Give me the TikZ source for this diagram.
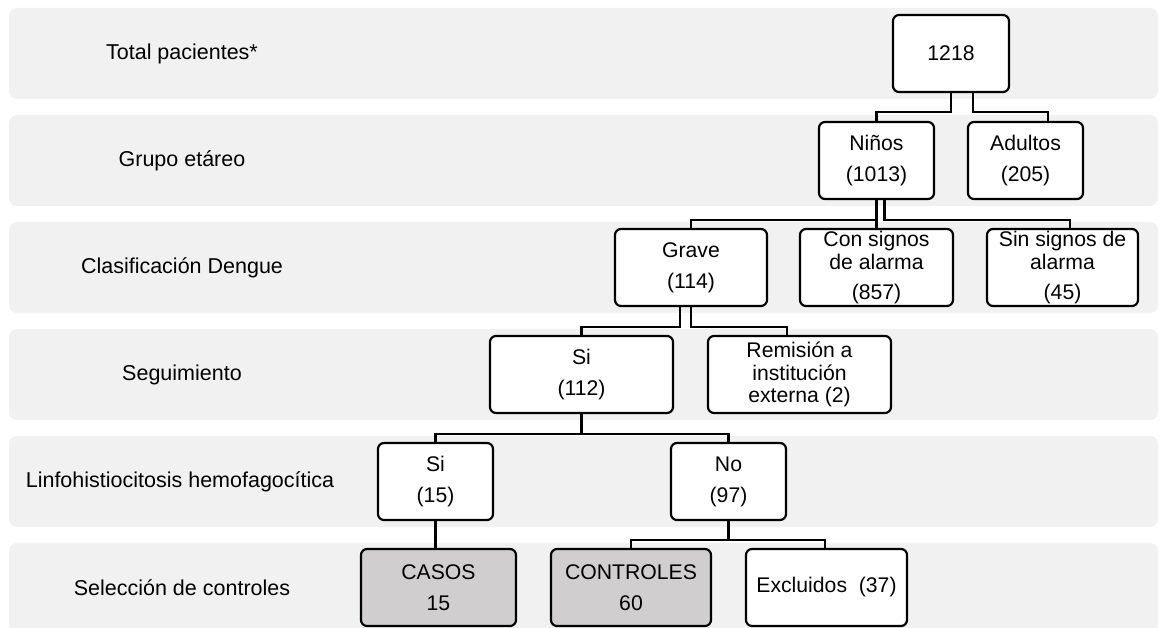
\documentclass[tikz,border=0pt]{standalone}
\usepackage{fontspec}
\setmainfont{Liberation Sans}
\definecolor{bandgray}{HTML}{F1F1F1}
\definecolor{selgray}{HTML}{D0CECE}
\begin{document}
\begin{tikzpicture}[x=1pt,y=-1pt,
  rowband/.style={fill=bandgray, draw=none, rounded corners=8pt},
  bx/.style={draw=black, line width=2.2pt, rounded corners=6pt, fill=white,
    minimum height=77pt, inner sep=0pt, align=center,
    font=\fontsize{21.2}{22.5}\selectfont},
  selbx/.style={bx, fill=selgray},
  lbl/.style={font=\fontsize{21.5}{24}\selectfont, anchor=center},
  conn/.style={draw=black, line width=2.2pt}]
\useasboundingbox (0,0) rectangle (1160,628);
\clip (0,0) rectangle (1160,628);
% row bands
\foreach \k in {0,...,5}{
  \fill[rowband] (9,{8+107*\k}) rectangle (1158,{99+107*\k});
}
% row labels
\node[lbl] (l1) at (182,53.5) {Total pacientes*};
\node[lbl] (l2) at (182,160.5) {Grupo etáreo};
\node[lbl] (l3) at (182,267.5) {Clasificación Dengue};
\node[lbl] (l4) at (182,374.5) {Seguimiento};
\node[lbl] (l5) at (180,481.5) {Linfohistiocitosis hemofagocítica};
\node[lbl] (l6) at (182,588) {Selección de controles};
% boxes
\node[bx, minimum width=116pt] (n1218) at (951,53.5) {1218};
\node[bx, minimum width=115pt] (ninos) at (876.5,160.5) {Niños\\[8.5pt](1013)};
\node[bx, minimum width=115pt] (adultos) at (1025.5,160.5) {Adultos\\[8.5pt](205)};
\node[bx, minimum width=152pt] (grave) at (691,267.5) {Grave\\[8.5pt](114)};
\node[bx, minimum width=153pt] (con) at (876.5,267.5) {Con signos\\de alarma\\[7.5pt](857)};
\node[bx, minimum width=151pt] (sin) at (1062.5,267.5) {Sin signos de\\alarma\\[7.5pt](45)};
\node[bx, minimum width=183pt] (si112) at (581.5,374.5) {Si\\[8.5pt](112)};
\node[bx, minimum width=183pt] (rem) at (799.5,374.5) {Remisión a\\institución\\externa (2)};
\node[bx, minimum width=115pt] (si15) at (435.5,481.5) {Si\\[8.5pt](15)};
\node[bx, minimum width=115pt] (no97) at (728.5,481.5) {No\\[8.5pt](97)};
\node[selbx, minimum width=155pt] (casos) at (438.5,587.5) {CASOS\\[8.5pt]15};
\node[selbx, minimum width=160pt] (controles) at (631,587.5) {CONTROLES\\[8.5pt]60};
\node[bx, minimum width=161pt] (excl) at (826.5,587.5) {Excluidos\ \ (37)};
% connectors
\draw[conn] (n1218.south) -- ++(0,19) -| (ninos.north);
\draw[conn] ([xshift=22pt]n1218.south) -- ++(0,19) -| ([xshift=22.5pt]adultos.north);
\draw[conn] (ninos.south) -- ++(0,20) -| (grave.north);
\draw[conn] (ninos.south) -- (con.north);
\draw[conn] ([xshift=8pt]ninos.south) -- ++(0,20) -| ([xshift=7.5pt]sin.north);
\draw[conn] ([xshift=-11pt]grave.south) -- ++(0,20) -| (si112.north);
\draw[conn] (grave.south) -- ++(0,20) -| ([xshift=-12.5pt]rem.north);
\draw[conn] (si112.south) -- ++(0,20) -| (si15.north);
\draw[conn] (si112.south) -- ++(0,20) -| (no97.north);
\draw[conn] (si15.south) -- (si15.south |- casos.north);
\draw[conn] (no97.south) -- ++(0,19) -| (controles.north);
\draw[conn] (no97.south) -- ++(0,19) -| ([xshift=-1.5pt]excl.north);
\end{tikzpicture}
\end{document}
